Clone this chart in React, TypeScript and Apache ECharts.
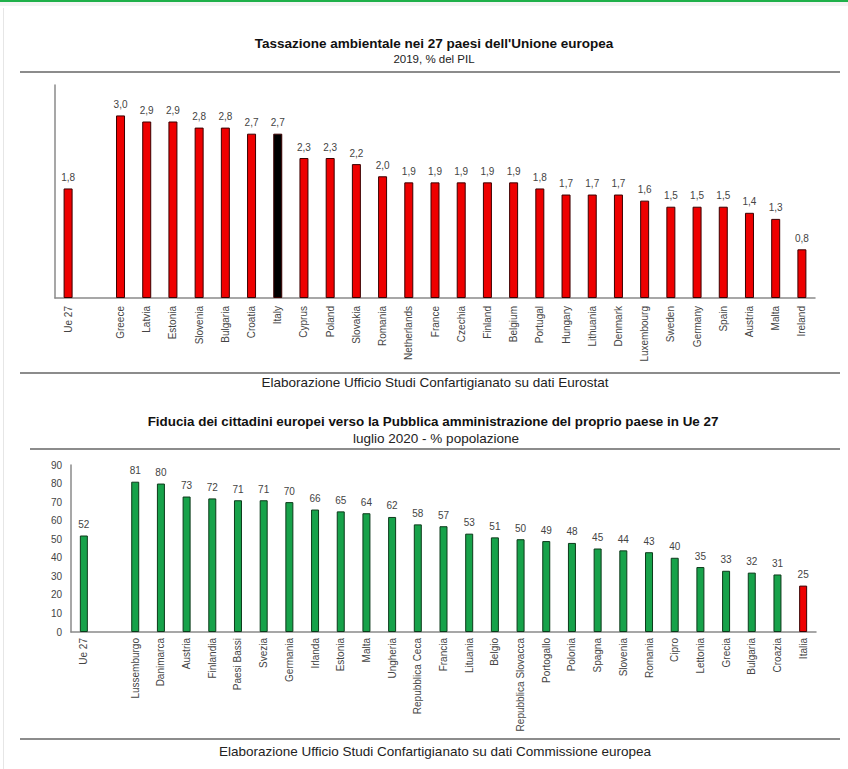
import React, { useEffect, useRef } from "react";
import * as echarts from "echarts";

const topTitle = "Tassazione ambientale nei 27 paesi dell'Unione europea";
const topSubtitle = "2019, % del PIL";
const topSource = "Elaborazione Ufficio Studi Confartigianato su dati Eurostat";
const topCategories = [
  "Ue 27", "", "Greece", "Latvia", "Estonia", "Slovenia", "Bulgaria", "Croatia", "Italy",
  "Cyprus", "Poland", "Slovakia", "Romania", "Netherlands", "France", "Czechia", "Finland",
  "Belgium", "Portugal", "Hungary", "Lithuania", "Denmark", "Luxembourg", "Sweden",
  "Germany", "Spain", "Austria", "Malta", "Ireland",
];
const topValues: (number | null)[] = [
  1.8, null, 3.0, 2.9, 2.9, 2.8, 2.8, 2.7, 2.7, 2.3, 2.3, 2.2, 2.0, 1.9, 1.9, 1.9, 1.9,
  1.9, 1.8, 1.7, 1.7, 1.7, 1.6, 1.5, 1.5, 1.5, 1.4, 1.3, 0.8,
];
const topHighlight = "Italy";

const bottomTitle =
  "Fiducia dei cittadini europei verso la Pubblica amministrazione del proprio paese in Ue 27";
const bottomSubtitle = "luglio 2020 - % popolazione";
const bottomSource = "Elaborazione Ufficio Studi Confartigianato su dati Commissione europea";
const bottomCategories = [
  "Ue 27", "", "Lussemburgo", "Danimarca", "Austria", "Finlandia", "Paesi Bassi", "Svezia",
  "Germania", "Irlanda", "Estonia", "Malta", "Ungheria", "Repubblica Ceca", "Francia",
  "Lituania", "Belgio", "Repubblica Slovacca", "Portogallo", "Polonia", "Spagna", "Slovenia",
  "Romania", "Cipro", "Lettonia", "Grecia", "Bulgaria", "Croazia", "Italia",
];
const bottomValues: (number | null)[] = [
  52, null, 81, 80, 73, 72, 71, 71, 70, 66, 65, 64, 62, 58, 57, 53, 51, 50, 49, 48, 45, 44,
  43, 40, 35, 33, 32, 31, 25,
];
const bottomHighlight = "Italia";
const bottomTicks = [0, 10, 20, 30, 40, 50, 60, 70, 80, 90];

const FONT = "Liberation Sans, Arial, sans-serif";

export default function App() {
  const ref = useRef<HTMLDivElement>(null);
  useEffect(() => {
    document.body.style.margin = "0";
    if (!ref.current) return;
    const chart = echarts.init(ref.current, null, { renderer: "svg" });

    const topData = topValues.map((v, i) => ({
      value: v === null ? "-" : v,
      itemStyle: {
        color: topCategories[i] === topHighlight ? "#000000" : "#ee0000",
        borderColor: "#3a0000",
        borderWidth: 1,
      },
    }));
    const bottomData = bottomValues.map((v, i) => ({
      value: v === null ? "-" : v,
      itemStyle: {
        color: bottomCategories[i] === bottomHighlight ? "#ee0000" : "#17a24a",
        borderColor: bottomCategories[i] === bottomHighlight ? "#3a0000" : "#0c3a1a",
        borderWidth: 1,
      },
    }));

    const axisLine = { show: true, lineStyle: { color: "#8a8a8a", width: 1.5 } };
    const centered = (text: string, x: number, y: number, size: number, bold = false) => ({
      type: "text",
      x,
      y,
      style: {
        text,
        fontSize: size,
        fontWeight: bold ? "bold" : "normal",
        fill: bold ? "#111" : "#222",
        fontFamily: FONT,
        textAlign: "center",
        textVerticalAlign: "middle",
      },
    });

    chart.setOption({
      animation: false,
      backgroundColor: "#ffffff",
      textStyle: { fontFamily: FONT },
      grid: [
        { left: 55, top: 85, width: 760, height: 213 },
        { left: 71, top: 465, width: 745, height: 167 },
      ],
      xAxis: [
        {
          type: "category",
          gridIndex: 0,
          data: topCategories,
          axisLine,
          axisTick: { show: false },
          axisLabel: {
            interval: 0,
            rotate: 90,
            margin: 8,
            fontSize: 10,
            color: "#444",
            fontFamily: FONT,
          },
        },
        {
          type: "category",
          gridIndex: 1,
          data: bottomCategories,
          axisLine,
          axisTick: { show: false },
          axisLabel: {
            interval: 0,
            rotate: 90,
            margin: 6,
            fontSize: 10,
            color: "#444",
            fontFamily: FONT,
          },
        },
      ],
      yAxis: [
        {
          type: "value",
          gridIndex: 0,
          min: 0,
          max: 3.5,
          axisLine,
          axisTick: { show: false },
          axisLabel: { show: false },
          splitLine: { show: false },
        },
        {
          type: "value",
          gridIndex: 1,
          min: bottomTicks[0],
          max: bottomTicks[bottomTicks.length - 1],
          interval: 10,
          axisLine,
          axisTick: { show: false },
          axisLabel: { fontSize: 10, color: "#444", margin: 9, fontFamily: FONT },
          splitLine: { show: false },
        },
      ],
      series: [
        {
          type: "bar",
          xAxisIndex: 0,
          yAxisIndex: 0,
          data: topData,
          barWidth: 9,
          label: {
            show: true,
            position: "top",
            distance: 6,
            fontSize: 10,
            color: "#444",
            fontFamily: FONT,
            formatter: (p: any) =>
              typeof p.value === "number" ? p.value.toFixed(1).replace(".", ",") : "",
          },
        },
        {
          type: "bar",
          xAxisIndex: 1,
          yAxisIndex: 1,
          data: bottomData,
          barWidth: 8,
          label: {
            show: true,
            position: "top",
            distance: 6,
            fontSize: 10,
            color: "#444",
            fontFamily: FONT,
            formatter: (p: any) => (typeof p.value === "number" ? String(p.value) : ""),
          },
        },
      ],
      graphic: [
        { type: "rect", shape: { x: 0, y: 0, width: 848, height: 2 }, style: { fill: "#1fb04a" } },
        { type: "rect", shape: { x: 0, y: 2, width: 848, height: 4 }, style: { fill: "#f4f4f4" } },
        { type: "line", shape: { x1: 3.5, y1: 8, x2: 3.5, y2: 769 }, style: { stroke: "#e6e6e6", lineWidth: 1 } },
        centered(topTitle, 434, 43, 13.5, true),
        centered(topSubtitle, 434, 59, 11.5),
        { type: "line", shape: { x1: 20, y1: 72, x2: 840, y2: 72 }, style: { stroke: "#666", lineWidth: 1.5 } },
        { type: "line", shape: { x1: 20, y1: 373, x2: 840, y2: 373 }, style: { stroke: "#666", lineWidth: 1.5 } },
        centered(topSource, 435, 382, 13.5),
        centered(bottomTitle, 433, 421, 13.4, true),
        centered(bottomSubtitle, 436, 438, 13.5),
        { type: "line", shape: { x1: 30, y1: 449, x2: 840, y2: 449 }, style: { stroke: "#666", lineWidth: 1.5 } },
        { type: "line", shape: { x1: 20, y1: 739, x2: 840, y2: 739 }, style: { stroke: "#666", lineWidth: 1.5 } },
        centered(bottomSource, 435, 751, 13.5),
      ],
    });
    return () => chart.dispose();
  }, []);
  return <div ref={ref} style={{ width: 848, height: 769 }} />;
}
